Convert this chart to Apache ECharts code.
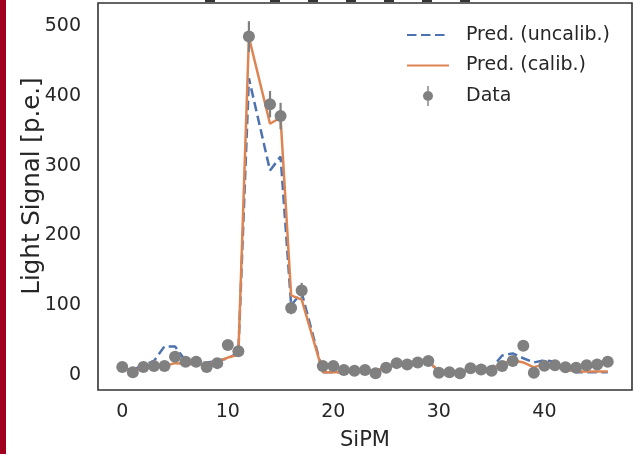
<!DOCTYPE html>
<html>
<head>
<meta charset="utf-8">
<script src="https://cdn.jsdelivr.net/npm/echarts@6/dist/echarts.min.js"></script>
<style>
html,body{margin:0;padding:0;background:#fff;}
#chart{width:635px;height:454px;}
</style>
</head>
<body>
<div id="chart"></div>
<script>
// SiPM channel indices (13 and 18 absent)
const sipm = [0,1,2,3,4,5,6,7,8,9,10,11,12,14,15,16,17,19,20,21,22,23,24,25,26,27,28,29,30,31,32,33,34,35,36,37,38,39,40,41,42,43,44,45,46];
const dataVals = [11.5,4,11.5,13,13,26,19,19,11.5,17,43,34,485,388,371,96,121,13,13,7,6,7,2.5,10.5,17,15,18,20,3.3,3.8,2.4,9.5,8,6,13,20,42,3.3,13.4,14,11,10.5,14,15,19];
const dataErr = [3,2,3,3,3,4,4,4,3,4,6,5,22,19,19,9,11,3,3,2,2,2,2,3,4,3,4,4,2,2,2,3,3,2,3,4,6,2,3,3,3,3,3,3,4];
const predCalib = [9,6,10,12,13,17,16,15,16,19,25,29,484,360,369,114,108,4,4,4,5,6,6,11,14,15,17,19,6,5,5,7,8,9,17,21,18,11,16,12,8,5,5,5,5];
const predUncalib = [10,7,14,20,41,41,20,17,18,20,24,32,425,293,313,100,118,4,4,4,5,6,6,11,15,15,17,19,5,5,5,7,8,10,28,31,24,18,21,19,10,4,4,4,4];
const xTicks = [0,10,20,30,40];
const yTicks = [0,100,200,300,400,500];

const pair = (xs, ys) => xs.map((x,i)=>[x, ys[i]]);
const errData = sipm.map((x,i)=>[x, dataVals[i]-dataErr[i], dataVals[i]+dataErr[i]]);

const font = 'DejaVu Sans';
const txt = '#262626';
const chart = echarts.init(document.getElementById('chart'), null, {renderer:'canvas'});
const topMarks = [210,275,313,351,389,427,465].map(x=>({
  type:'rect', shape:{x:x-5, y:0, width:10, height:2}, style:{fill:'#333'}, silent:true
}));
const hideSym = {color:'rgba(0,0,0,0)', borderColor:'rgba(0,0,0,0)', borderWidth:0, opacity:0};
chart.setOption({
  animation:false,
  backgroundColor:'#fff',
  textStyle:{fontFamily:font},
  graphic:[
    {type:'rect', shape:{x:0,y:0,width:6,height:454}, style:{fill:'#a0001e'}, silent:true},
    ...topMarks
  ],
  grid:{left:98, right:3, top:3, bottom:64, show:true, borderColor:'#333', borderWidth:1.6,
        backgroundColor:'#fff', containLabel:false, outerBoundsMode:'none'},
  legend:{
    orient:'vertical', left:406, top:25, itemWidth:42, itemHeight:20, itemGap:10.5, padding:0,
    textStyle:{fontFamily:font, fontSize:19, color:txt, padding:[0,0,0,12], lineHeight:20},
    data:[
      {name:'Pred. (uncalib.)', itemStyle:hideSym},
      {name:'Pred. (calib.)', itemStyle:hideSym},
      {name:'Data', icon:'path://M4.3,0 L5.7,0 L5.7,20 L4.3,20 Z M5,5 A5,5 0 1 1 4.99,5 Z', itemStyle:{color:'#808080'}}
    ]
  },
  xAxis:{
    type:'value', min:-2.3, max:48.3, name:'SiPM', nameLocation:'middle', nameGap:40, nameMoveOverlap:false,
    nameTextStyle:{fontFamily:font, fontSize:21, color:txt},
    axisLine:{show:false}, axisTick:{show:false}, splitLine:{show:false},
    axisLabel:{customValues:xTicks, fontFamily:font, fontSize:19, color:txt, margin:13}
  },
  yAxis:{
    type:'value', min:-21.5, max:533, name:'Light Signal [p.e.]', nameLocation:'middle', nameGap:53, nameMoveOverlap:false,
    nameTextStyle:{fontFamily:font, fontSize:24.5, color:txt, padding:[0,0,0,21]},
    axisLine:{show:false}, axisTick:{show:false}, splitLine:{show:false},
    axisLabel:{customValues:yTicks, fontFamily:font, fontSize:19, color:txt, margin:17}
  },
  series:[
    {name:'Pred. (uncalib.)', type:'line', data:pair(sipm,predUncalib), showSymbol:false, symbol:'none',
     lineStyle:{color:'#4c72b0', width:2.5, type:[9.5,4.5]}, itemStyle:{color:'#4c72b0'}, z:2},
    {name:'Pred. (calib.)', type:'line', data:pair(sipm,predCalib), showSymbol:false, symbol:'none',
     lineStyle:{color:'#dd8452', width:2.5}, itemStyle:{color:'#dd8452'}, z:3},
    {name:'DataErr', type:'custom', data:errData, z:4,
     renderItem:(params, api)=>{
       const lo = api.coord([api.value(0), api.value(1)]);
       const hi = api.coord([api.value(0), api.value(2)]);
       return {type:'line', shape:{x1:lo[0], y1:lo[1], x2:hi[0], y2:hi[1]}, style:{stroke:'#808080', lineWidth:2.2}};
     }},
    {name:'Data', type:'scatter', data:pair(sipm,dataVals), symbol:'circle', symbolSize:12,
     itemStyle:{color:'#808080', opacity:1}, z:5}
  ]
});
</script>
</body>
</html>
